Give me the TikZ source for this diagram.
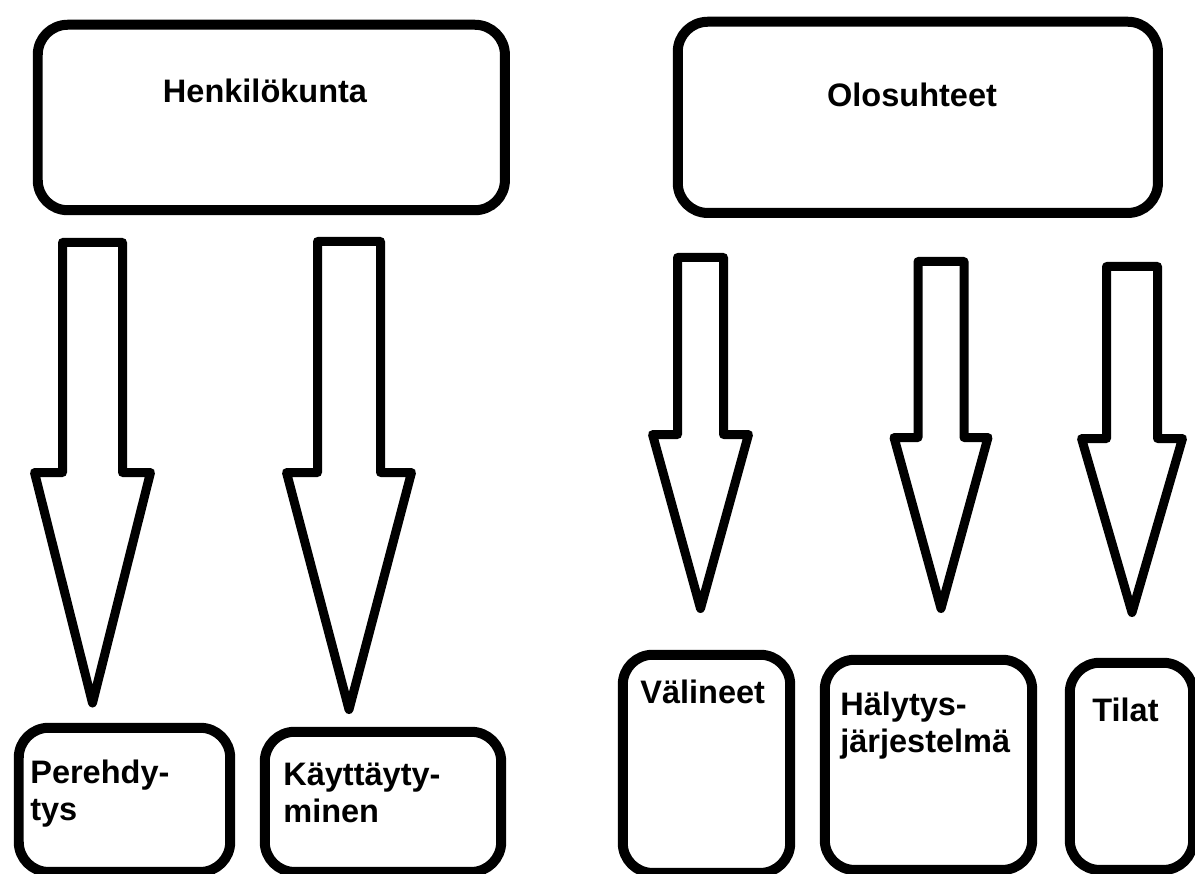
\documentclass[tikz,border=0pt]{standalone}
\usepackage{fontspec}
\setmainfont{Liberation Sans}
\usepackage{tikz}

\tikzset{
  box/.style={draw, line width=0.2cm, rounded corners=0.6cm, inner sep=0pt, anchor=north west},
  bigarrow/.style={draw, line width=0.18cm, line join=round},
  lbl/.style={font=\bfseries\fontsize{18.5}{21}\selectfont, inner sep=0pt, align=left}
}

% x, top, shoulder, tip, half shaft, half head
\newcommand{\blockarrow}[6]{%
  \draw[bigarrow] (#1-#5,#2) -- (#1+#5,#2) -- (#1+#5,#3) -- (#1+#6,#3)
    -- (#1,#4) -- (#1-#6,#3) -- (#1-#5,#3) -- cycle;}

\begin{document}
\begin{tikzpicture}[x=0.02cm, y=-0.02cm]
   \useasboundingbox[fill=white] (0,0) rectangle (1195,874);

   % top boxes
   \node[box, minimum width=9.345cm, minimum height=3.71cm] (henk) at (32.75,19.75) {};
   \node[box, minimum width=9.605cm, minimum height=3.825cm] (olos) at (672.75,16.75) {};
   \node[lbl, anchor=base] (henktxt) at (265,103) {Henkilökunta};
   \node[lbl, anchor=base] (olostxt) at (912,107) {Olosuhteet};

   % arrows
   \blockarrow{92.5}{242.5}{472.5}{703}{30}{58}
   \blockarrow{349}{241.5}{472.5}{709.5}{31.5}{62.5}
   \blockarrow{700.5}{257.5}{434.5}{608.5}{23}{48}
   \blockarrow{941}{261.5}{437.5}{608.5}{23}{47}
   \blockarrow{1132}{266.5}{438.5}{612.5}{25.5}{50.5}

   % bottom boxes
   \node[box, minimum width=4.23cm, minimum height=2.885cm] (pere) at (13.75,722.75) {};
   \node[box, minimum width=4.73cm, minimum height=2.805cm] (kayt) at (259.75,726.75) {};
   \node[box, minimum width=3.35cm, minimum height=4.365cm] (vali) at (617.75,649.75) {};
   \node[box, minimum width=4.15cm, minimum height=4.205cm] (haly) at (819.75,654.75) {};
   \node[box, minimum width=2.47cm, minimum height=4.145cm] (tila) at (1064.75,657.75) {};

   % base = last line
   \node[lbl, anchor=base west] (peretxt) at (30,820) {Perehdy-\\tys};
   \node[lbl, anchor=base west] (kayttxt) at (283,822) {Käyttäyty-\\minen};
   \node[lbl, anchor=base west] (valitxt) at (640,703) {Välineet};
   \node[lbl, anchor=base west] (halytxt) at (840,752) {Hälytys-\\järjestelmä};
   \node[lbl, anchor=base west] (tilatxt) at (1092,721) {Tilat};

\end{tikzpicture}
\end{document}
